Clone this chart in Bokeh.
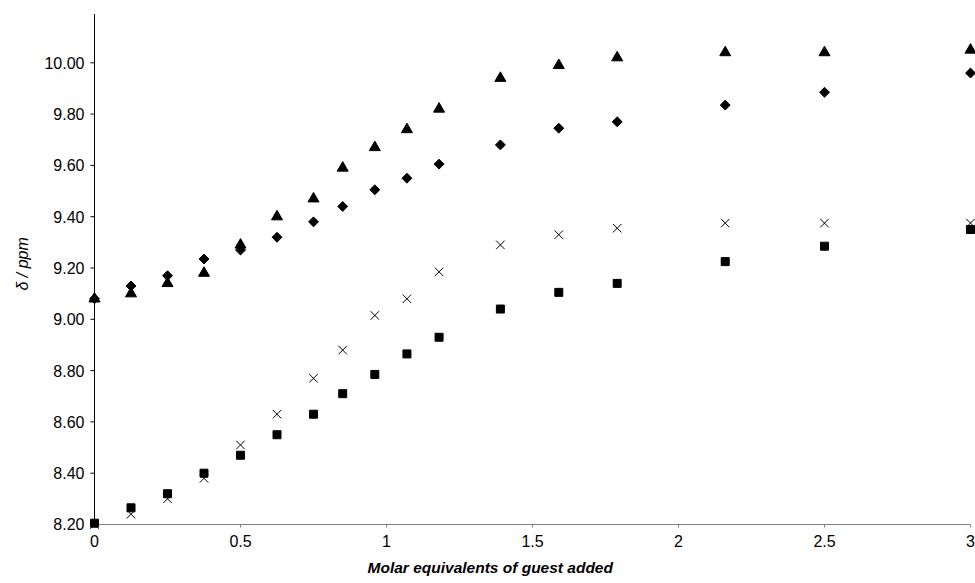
from math import pi
from bokeh.plotting import figure
from bokeh.models import FixedTicker, Range1d, Title
from bokeh.embed import file_html
from bokeh.resources import INLINE

# Molar equivalents of guest added
x_eq = [0, 0.125, 0.25, 0.375, 0.5, 0.625, 0.75, 0.85, 0.96, 1.07, 1.18,
        1.39, 1.59, 1.79, 2.16, 2.5, 3.0]
# chemical shifts (ppm) for the four signals
tri_vals = [9.08, 9.10, 9.14, 9.18, 9.29, 9.40, 9.47, 9.59, 9.67, 9.74, 9.82,
            9.94, 9.99, 10.02, 10.04, 10.04, 10.05]
dia_vals = [9.08, 9.13, 9.17, 9.235, 9.27, 9.32, 9.38, 9.44, 9.505, 9.55, 9.605,
            9.68, 9.745, 9.77, 9.835, 9.885, 9.96]
crs_vals = [8.20, 8.24, 8.30, 8.38, 8.51, 8.63, 8.77, 8.88, 9.015, 9.08, 9.185,
            9.29, 9.33, 9.355, 9.375, 9.375, 9.375]
sq_vals = [8.205, 8.265, 8.32, 8.40, 8.47, 8.55, 8.63, 8.71, 8.785, 8.865, 8.93,
           9.04, 9.105, 9.14, 9.225, 9.285, 9.35]

x_ticks = [0, 0.5, 1, 1.5, 2, 2.5, 3]
x_tick_labels = ["0", "0.5", "1", "1.5", "2", "2.5", "3"]
y_ticks = [8.2, 8.4, 8.6, 8.8, 9.0, 9.2, 9.4, 9.6, 9.8, 10.0]
y_tick_labels = ["8.20", "8.40", "8.60", "8.80", "9.00", "9.20", "9.40",
                 "9.60", "9.80", "10.00"]
y_axis_top = 10.19

x_title = "Molar equivalents of guest added"
y_title = "δ / ppm"

X0, X1 = x_ticks[0], x_ticks[-1]
Y0 = y_ticks[0]

p = figure(width=975, height=583, output_backend="svg", toolbar_location=None,
           x_range=Range1d(-0.0274, 3.0171), y_range=Range1d(8.1766, 10.2),
           min_border_left=86, min_border_right=0, min_border_top=11,
           min_border_bottom=53)
p.outline_line_color = None
p.grid.visible = False
p.background_fill_color = "white"
p.border_fill_color = "white"

FONT = "Liberation Sans"

p.xaxis.ticker = FixedTicker(ticks=x_ticks)
p.xaxis.major_label_overrides = {t: l for t, l in zip(x_ticks, x_tick_labels)}
p.yaxis.ticker = FixedTicker(ticks=y_ticks)
p.yaxis.major_label_overrides = {t: l for t, l in zip(y_ticks, y_tick_labels)}

for ax in (p.xaxis, p.yaxis):
    ax.major_label_text_font = FONT
    ax.major_label_text_font_size = "16px"
    ax.major_label_text_color = "black"
    ax.minor_tick_line_color = None
    ax.major_tick_line_color = None
    ax.axis_line_color = None
    ax.major_tick_in = 0
    ax.major_tick_out = 0
p.xaxis.major_label_standoff = 4
p.yaxis.major_label_standoff = 2

# axis lines and tick marks drawn at the data origin (inside the frame)
px_per_x = (975 - 86) / (3.0171 + 0.0274)
px_per_y = (583 - 11 - 53) / (10.2 - 8.1766)
ytick_len = 4 / px_per_x
xtick_len = 3 / px_per_y
p.segment(x0=[X0], y0=[Y0], x1=[X1], y1=[Y0], line_color="#808080", line_width=1)
p.segment(x0=x_ticks, y0=[Y0] * len(x_ticks), x1=x_ticks,
          y1=[Y0 - xtick_len] * len(x_ticks), line_color="#808080", line_width=1)
p.segment(x0=[X0], y0=[Y0], x1=[X0], y1=[y_axis_top], line_color="black", line_width=1)
p.segment(x0=[X0] * len(y_ticks), y0=y_ticks, x1=[X0 - ytick_len] * len(y_ticks),
          y1=y_ticks, line_color="black", line_width=1)

p.scatter(x_eq, dia_vals, marker="square", angle=pi / 4, size=7,
          fill_color="black", line_color="black")
p.scatter(x_eq, sq_vals, marker="square", size=8,
          fill_color="black", line_color="black")
p.scatter(x_eq, tri_vals, marker="triangle", size=11,
          fill_color="black", line_color="black")
p.scatter(x_eq, crs_vals, marker="x", size=12,
          line_color="black", line_width=1)

p.add_layout(Title(text=x_title, align="left", offset=281, standoff=14,
                   text_font=FONT, text_font_style="bold italic",
                   text_font_size="15.5px", text_color="black"), "below")
p.add_layout(Title(text=y_title, align="left", offset=240, standoff=21,
                   text_font=FONT, text_font_style="italic",
                   text_font_size="16px", text_color="black"), "left")

open("out.html", "w").write(file_html(p, INLINE))
